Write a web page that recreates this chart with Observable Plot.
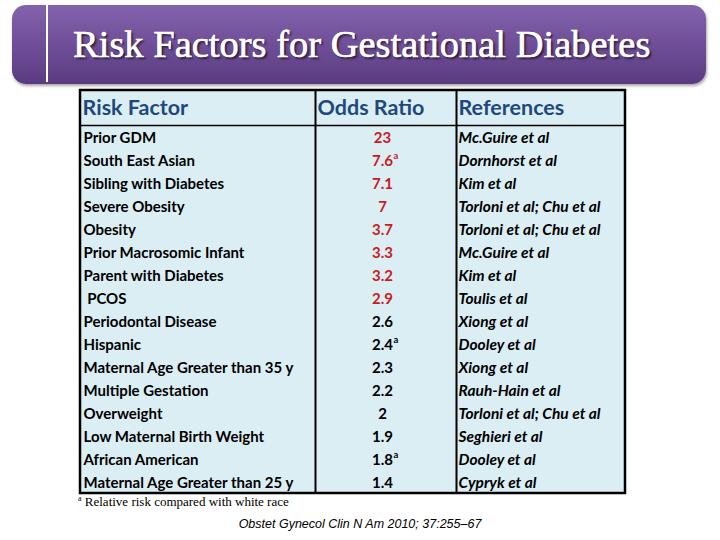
<!DOCTYPE html>
<html><head><meta charset="utf-8">
<script src="https://cdn.jsdelivr.net/npm/d3@7"></script>
<script src="https://cdn.jsdelivr.net/npm/@observablehq/plot@0.6"></script>
<style>
body{margin:0;width:720px;height:540px;position:relative;background:#fff;overflow:hidden;font-family:Lato,sans-serif}
#banner{position:absolute;left:12px;top:5px;width:694px;height:79px;border-radius:14px;background:linear-gradient(#8462ae,#5a3b80);box-shadow:1px 2px 3px rgba(0,0,0,.35)}
#banner .bar{position:absolute;left:34px;top:0;height:77px;width:2px;background:#fff}
#title{position:absolute;left:73px;top:25px;font:38.5px/1 "Liberation Serif",serif;color:#fff;text-shadow:2px 2px 2px rgba(0,0,0,.6),0 0 0.6px #fff;white-space:nowrap;-webkit-text-stroke:0.5px #fff}
#chart{position:absolute;left:0;top:86px}
#note{position:absolute;left:78px;top:494px;font:13px "Liberation Serif",serif;color:#000}
#note sup{font-size:8px}
#cite{position:absolute;left:0;width:720px;text-align:center;top:517px;font:italic 12.5px "Liberation Sans",sans-serif;color:#000}
</style></head>
<body>
<div id="banner"><div class="bar"></div></div>
<div id="title">Risk Factors for Gestational Diabetes</div>
<div id="chart"></div>
<div id="note"><sup>a</sup> Relative risk compared with white race</div>
<div id="cite">Obstet Gynecol Clin N Am 2010; 37:255–67</div>
<script>
const headers = ["Risk Factor", "Odds Ratio", "References"];
const factors = ["Prior GDM","South East Asian","Sibling with Diabetes","Severe Obesity","Obesity","Prior Macrosomic Infant","Parent with Diabetes","\u00a0PCOS","Periodontal Disease","Hispanic","Maternal Age Greater than 35 y","Multiple Gestation","Overweight","Low Maternal Birth Weight","African American","Maternal Age Greater than 25 y"];
const oddsRatios = [23, 7.6, 7.1, 7, 3.7, 3.3, 3.2, 2.9, 2.6, 2.4, 2.3, 2.2, 2, 1.9, 1.8, 1.4];
const relativeRiskVsWhite = [false,true,false,false,false,false,false,false,false,true,false,false,false,false,true,false];
const highlighted = [true,true,true,true,true,true,true,true,false,false,false,false,false,false,false,false];
const references = ["Mc.Guire et al","Dornhorst et al","Kim et al","Torloni et al; Chu et al","Torloni et al; Chu et al","Mc.Guire et al","Kim et al","Toulis et al","Xiong et al","Dooley et al","Xiong et al","Rauh-Hain et al","Torloni et al; Chu et al","Seghieri et al","Dooley et al","Cypryk et al"];

const rows = factors.map((f, i) => ({i, factor: f, odds: oddsRatios[i], sup: relativeRiskVsWhite[i], red: highlighted[i], ref: references[i]}));

// layout (table-relative x units = px)
const colEdges = [0, 235, 376, 545];
const headTop = -1.52;
const font = "Lato, 'Open Sans', sans-serif";
const bg = "#dbeef4";

const chart = Plot.plot({
  width: 720, height: 412,
  marginLeft: 80, marginRight: 95, marginTop: 4, marginBottom: 5,
  x: {domain: [0, 545], axis: null},
  y: {domain: [headTop, 16], axis: null, reverse: true},
  marks: [
    Plot.rect([0], {x1: colEdges[0], x2: colEdges[3], y1: headTop, y2: 16, fill: bg}),
    Plot.text(headers, {x: (d, i) => colEdges[i] + 2, y: headTop / 2, text: d => d, textAnchor: "start",
      fontSize: 21.5, fontWeight: "bold", fontFamily: font, fill: "#1f497d"}),
    Plot.text(rows, {x: 3, y: d => d.i + 0.55, text: "factor", textAnchor: "start",
      fontSize: 15, fontWeight: "bold", fontFamily: font, fill: "#000"}),
    Plot.text(rows, {x: 302, y: d => d.i + 0.55, text: d => String(d.odds), textAnchor: "middle",
      fontSize: 15, fontWeight: "bold", fontFamily: font, fill: d => d.red ? "#cc1a22" : "#000"}),
    Plot.text(rows.filter(d => d.sup), {x: 302, dx: 11, dy: -5, y: d => d.i + 0.55, text: () => "a", textAnchor: "start",
      fontSize: 9.5, fontWeight: "bold", fontFamily: font, fill: d => d.red ? "#cc1a22" : "#000"}),
    Plot.text(rows, {x: colEdges[2] + 2, y: d => d.i + 0.55, text: "ref", textAnchor: "start",
      fontSize: 15.5, fontWeight: "bold", fontStyle: "italic", fontFamily: font, fill: "#000"}),
    Plot.ruleY([0], {x1: colEdges[0], x2: colEdges[3], stroke: "#000", strokeWidth: 1.5}),
    Plot.ruleX([colEdges[1], colEdges[2]], {y1: headTop, y2: 16, stroke: "#000", strokeWidth: 2}),
    Plot.rect([0], {x1: colEdges[0], x2: colEdges[3], y1: headTop, y2: 16, fill: "none", stroke: "#000", strokeWidth: 2.5})
  ]
});
document.getElementById("chart").appendChild(chart);
</script>
</body></html>
